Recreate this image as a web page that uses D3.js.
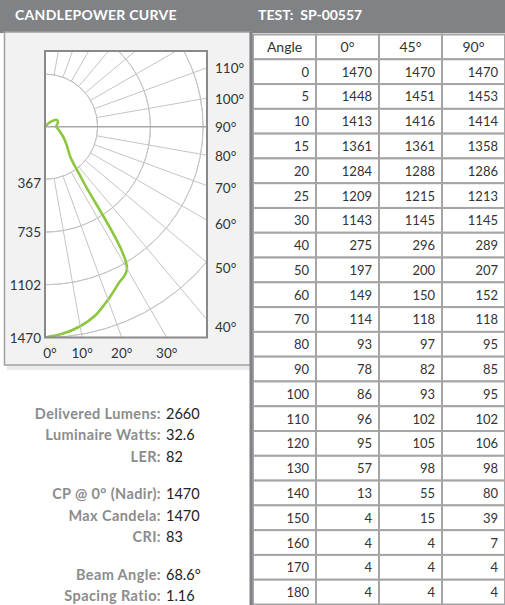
<!DOCTYPE html>
<html>
<head>
<meta charset="utf-8">
<script src="https://cdn.jsdelivr.net/npm/d3@7"></script>
<style>
  body { margin: 0; background: #fff; }
  svg { display: block; font-family: Lato, "Open Sans", sans-serif; }
</style>
</head>
<body>
<svg id="chart" width="505" height="605"></svg>
<script>
// table data
const tableAngles = [0, 5, 10, 15, 20, 25, 30, 40, 50, 60, 70, 80, 90, 100, 110, 120, 130, 140, 150, 160, 170, 180];
const plane0 = [1470, 1448, 1413, 1361, 1284, 1209, 1143, 275, 197, 149, 114, 93, 78, 86, 96, 95, 57, 13, 4, 4, 4, 4];
const plane45 = [1470, 1451, 1416, 1361, 1288, 1215, 1145, 296, 200, 150, 118, 97, 82, 93, 102, 105, 98, 55, 15, 4, 4, 4];
const plane90 = [1470, 1453, 1414, 1358, 1286, 1213, 1145, 289, 207, 152, 118, 95, 85, 95, 102, 106, 98, 80, 39, 7, 4, 4];
const columns = ["Angle", "0°", "45°", "90°"];

// the plotted curve (0° plane), 35°
const curveAngles = [0, 5, 10, 15, 20, 25, 30, 35, 40, 50, 60, 70, 80, 90, 100, 110, 120, 130, 140, 150, 160, 170, 180];
const curveCandela = [1470, 1448, 1413, 1361, 1284, 1209, 1143, 460, 275, 197, 149, 114, 93, 78, 86, 96, 95, 57, 13, 4, 4, 4, 4];

const radialTicks = [367, 735, 1102, 1470];
const sideAngleLabels = [110, 100, 90, 80, 70, 60, 50, 40];
const bottomAngleLabels = [0, 10, 20, 30];
const gridAngles = d3.range(10, 180, 10);

const statLabels = ["Delivered Lumens:", "Luminaire Watts:", "LER:", "CP @ 0° (Nadir):", "Max Candela:", "CRI:", "Beam Angle:", "Spacing Ratio:"];
const statValues = ["2660", "32.6", "82", "1470", "1470", "83", "68.6°", "1.16"];
const statGroups = [0, 0, 0, 1, 1, 1, 2, 2];

const svg = d3.select("#chart");
const GREY = "#808285";

// header bar
svg.append("rect").attr("x", 0).attr("y", 0).attr("width", 505).attr("height", 33).attr("fill", GREY);
svg.append("text").attr("x", 15).attr("y", 20).text("CANDLEPOWER CURVE")
  .attr("fill", "#fff").style("font-weight", "bold").style("font-size", "14px")
  .style("letter-spacing", "0.3px");
svg.append("text").attr("x", 258).attr("y", 20).text("TEST:  SP-00557")
  .attr("fill", "#fff").style("font-weight", "bold").style("font-size", "14px")
  .style("white-space", "pre");

// left panel
svg.append("rect").attr("x", 7).attr("y", 365).attr("width", 243).attr("height", 5).attr("fill", "#ececec");
svg.append("rect").attr("x", 4.5).attr("y", 32).attr("width", 246).attr("height", 333)
  .attr("fill", "#f2f2f2").attr("stroke", "#a0a0a0").attr("stroke-width", 1.5);

// polar plot
const box = { x: 45, y: 51, w: 162, h: 286.5 };
const cx = 45, cy = 126.7;
const r = d3.scaleLinear().domain([0, 1470]).range([0, 210.8]);
const rad = (a) => (a * Math.PI) / 180;
const px = (a, c) => cx + r(c) * Math.sin(rad(a));
const py = (a, c) => cy + r(c) * Math.cos(rad(a));

svg.append("clipPath").attr("id", "plotclip")
  .append("rect").attr("x", box.x).attr("y", box.y).attr("width", box.w).attr("height", box.h);

svg.append("rect").attr("x", box.x).attr("y", box.y).attr("width", box.w).attr("height", box.h).attr("fill", "#fff");

const plot = svg.append("g").attr("clip-path", "url(#plotclip)");
const polar = plot.append("g").attr("transform", `translate(${cx},${cy})`);

const arc = d3.arc().startAngle(0).endAngle(Math.PI);
polar.selectAll(".ring")
  .data(radialTicks)
  .enter()
  .append("path")
  .attr("d", (d) => arc({ innerRadius: r(d), outerRadius: r(d) }))
  .attr("fill", "none")
  .attr("stroke", "#c4c4c4")
  .attr("stroke-width", 1);

plot.selectAll(".spoke")
  .data(gridAngles.filter((a) => a !== 90))
  .enter()
  .append("line")
  .attr("x1", (a) => px(a, radialTicks[0]))
  .attr("y1", (a) => py(a, radialTicks[0]))
  .attr("x2", (a) => px(a, 3000))
  .attr("y2", (a) => py(a, 3000))
  .attr("stroke", "#c4c4c4")
  .attr("stroke-width", 1);

plot.append("line")
  .attr("x1", px(90, 0)).attr("y1", py(90, 0))
  .attr("x2", px(90, 3000)).attr("y2", py(90, 3000))
  .attr("stroke", "#a8a8a8").attr("stroke-width", 1.6);

const curveData = curveAngles.map((a, i) => ({ a, c: curveCandela[i] }));
const radialLine = d3.lineRadial()
  .angle((d) => Math.PI - rad(d.a))
  .radius((d) => r(d.c))
  .curve(d3.curveCatmullRom.alpha(0.5));

polar.append("path")
  .datum(curveData)
  .attr("d", radialLine)
  .attr("fill", "none")
  .attr("stroke", "#8dc63f")
  .attr("stroke-width", 2.6)
  .attr("stroke-linejoin", "round");

svg.append("rect").attr("x", box.x).attr("y", box.y).attr("width", box.w).attr("height", box.h)
  .attr("fill", "none").attr("stroke", "#8a8a8a").attr("stroke-width", 2);

// candela labels on the left
svg.selectAll(".rlabel")
  .data(radialTicks)
  .enter()
  .append("text")
  .attr("x", box.x - 4)
  .attr("y", (d) => cy + r(d) + (d === radialTicks[0] ? 9 : 5))
  .attr("text-anchor", "end")
  .attr("fill", "#333")
  .style("font-size", "13.5px")
  .text((d) => d);

// angle labels on the right
const sideX = box.x + box.w;
svg.selectAll(".alabel")
  .data(sideAngleLabels)
  .enter()
  .append("text")
  .attr("x", sideX + 8)
  .attr("y", (a) => cy + (sideX + 6 - cx) / Math.tan(rad(a)) + (a > 90 ? 7 : 5))
  .attr("fill", "#333")
  .style("font-size", "13.5px")
  .text((a) => a + "°");

svg.selectAll(".blabel")
  .data(bottomAngleLabels)
  .enter()
  .append("text")
  .attr("x", (a) => Math.max(50, cx + (box.y + box.h - cy) * Math.tan(rad(a))))
  .attr("y", box.y + box.h + 20)
  .attr("text-anchor", "middle")
  .attr("fill", "#333")
  .style("font-size", "13.5px")
  .text((a) => a + "°");

// stats
const statY = (i) => 414 + i * 21.3 + statGroups[i] * 16.5 + 5;
svg.selectAll(".slabel")
  .data(statLabels)
  .enter()
  .append("text")
  .attr("x", 161)
  .attr("y", (d, i) => statY(i))
  .attr("text-anchor", "end")
  .attr("fill", "#8c8c8c")
  .style("font-size", "14.5px")
  .style("font-weight", "bold")
  .style("letter-spacing", "0.4px")
  .text((d) => d);

svg.selectAll(".svalue")
  .data(statValues)
  .enter()
  .append("text")
  .attr("x", 166)
  .attr("y", (d, i) => statY(i))
  .attr("fill", "#222")
  .style("font-size", "14.5px")
  .text((d) => d);

// table
const xCol = d3.scaleBand().domain(columns).range([253, 505]);
const yRow = d3.scaleBand().domain(d3.range(tableAngles.length + 1)).range([34.5, 604.5]);

const rows = [columns].concat(tableAngles.map((a, i) => [a, plane0[i], plane45[i], plane90[i]]));

const rowG = svg.selectAll(".row")
  .data(rows)
  .enter()
  .append("g")
  .attr("transform", (d, i) => `translate(0,${yRow(i)})`);

rowG.selectAll("rect")
  .data((d) => d)
  .enter()
  .append("rect")
  .attr("x", (d, j) => xCol(columns[j]))
  .attr("width", xCol.bandwidth())
  .attr("height", yRow.bandwidth())
  .attr("fill", "#fff")
  .attr("stroke", "#a5a5a5")
  .attr("stroke-width", 2);

rowG.selectAll("text")
  .data((d, i) => d.map((v) => ({ v, header: i === 0 })))
  .enter()
  .append("text")
  .attr("x", (d, j) => d.header ? xCol(columns[j]) + xCol.bandwidth() / 2 : xCol(columns[j]) + xCol.bandwidth() - 7)
  .attr("y", yRow.bandwidth() / 2 + 5)
  .attr("text-anchor", (d) => d.header ? "middle" : "end")
  .attr("fill", "#333")
  .style("font-size", (d) => d.header ? "14px" : "13px")
  .text((d) => d.v);

svg.append("rect").attr("x", 249.5).attr("y", 32).attr("width", 3).attr("height", 573).attr("fill", GREY);
</script>
</body>
</html>
